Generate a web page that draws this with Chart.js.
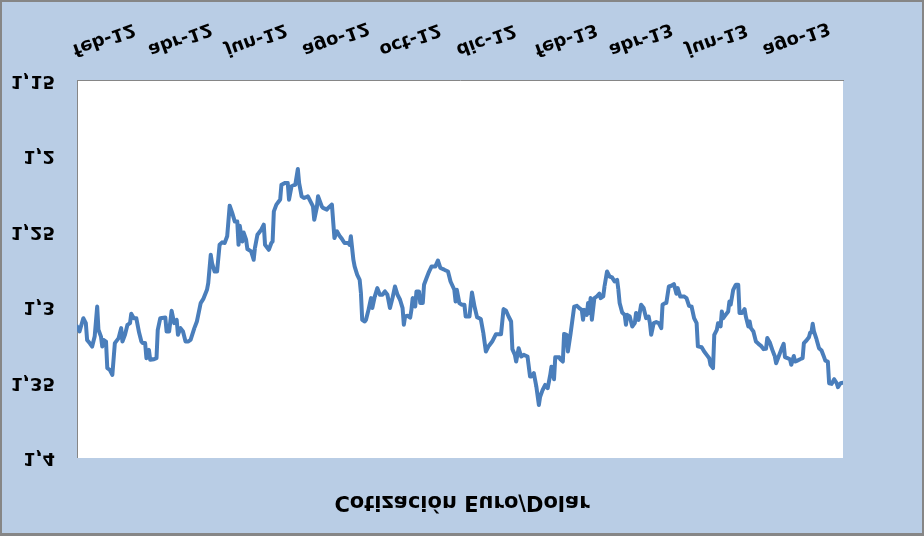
<!DOCTYPE html>
<html><head><meta charset="utf-8">
<script src="https://cdn.jsdelivr.net/npm/chart.js@4.4.1/dist/chart.umd.min.js"></script>
<style>
html,body{margin:0;padding:0;background:#fff;overflow:hidden}
#c{display:block;transform:scaleY(-1);}
</style></head><body>
<canvas id="c" width="924" height="536"></canvas>
<script>
// x values: days since 1 Feb 2012 ; y values: EUR/USD quote
const days=[
0,2,5,7,8,10,12,14,16,17,
19,20,21,23,24,26,28,30,33,35,
36,38,40,42,43,45,47,49,51,52,
54,55,57,58,61,63,64,66,70,71,
73,75,77,79,80,82,84,86,88,90,
93,95,98,100,103,104,106,107,109,111,
113,115,117,119,121,123,125,127,128,129,
131,132,134,135,138,140,141,143,146,148,
149,152,154,155,156,158,160,161,162,165,
167,168,170,173,175,176,178,180,183,185,
187,188,190,191,194,195,198,199,202,203,
204,206,208,210,212,215,216,217,219,220,
222,224,225,226,228,229,231,233,234,236,
238,240,242,244,246,248,250,252,254,256,
258,259,260,262,264,265,266,268,269,271,
272,274,275,277,279,281,284,286,288,291,
294,296,299,300,301,303,305,307,308,311,
313,315,317,320,322,324,326,329,332,336,
338,340,342,344,345,347,348,350,352,354,
357,359,360,362,364,366,367,369,371,373,
375,376,378,379,382,383,385,386,388,389,
391,394,396,398,400,401,402,404,405,406,
407,408,410,412,414,415,417,418,420,422,
424,426,428,429,430,432,434,435,436,438,
440,442,443,445,447,449,451,453,454,455,
457,459,461,463,464,466,467,469,471,473,
475,476,478,481,483,485,487,489,491,492,
495,497,499,501,502,504,505,507,508,510,
511,512,514,516,517,518,520,522,524,525,
527,529,530,532,533,534,536,538,540,542,
544,546,547,549,551,553,554,556,558,560,
561,563,565,566,568,569,571,573,575,576,
578,580,581,582,583,584,586,588,590,592,
593,595,596,598,600,602,603,605,607];
const values=[
1.3129,1.3162,1.3074,1.3107,1.3218,1.3239,1.3262,1.3196,1.2997,1.3151,
1.3196,1.3262,1.3218,1.3229,1.3405,1.3416,1.3450,1.3239,1.3206,1.3140,
1.3229,1.3184,1.3118,1.3107,1.3045,1.3074,1.3074,1.3162,1.3229,1.3239,
1.3239,1.3339,1.3284,1.3350,1.3346,1.3339,1.3151,1.3074,1.3070,1.3162,
1.3162,1.3025,1.3107,1.3085,1.3184,1.3140,1.3162,1.3229,1.3229,1.3218,
1.3140,1.3096,1.2974,1.2948,1.2886,1.2842,1.2654,1.2709,1.2765,1.2765,
1.2588,1.2572,1.2576,1.2532,1.2329,1.2377,1.2433,1.2433,1.2588,1.2462,
1.2566,1.2506,1.2554,1.2616,1.2632,1.2687,1.2609,1.2521,1.2488,1.2455,
1.2588,1.2621,1.2576,1.2566,1.2367,1.2322,1.2300,1.2289,1.2190,1.2178,
1.2178,1.2289,1.2201,1.2190,1.2086,1.2178,1.2267,1.2278,1.2267,1.2300,
1.2334,1.2422,1.2344,1.2267,1.2334,1.2344,1.2355,1.2344,1.2322,1.2433,
1.2543,1.2499,1.2528,1.2550,1.2576,1.2576,1.2588,1.2532,1.2687,1.2731,
1.2786,1.2820,1.2908,1.3085,1.3096,1.3085,1.3019,1.2941,1.3007,1.2930,
1.2875,1.2919,1.2919,1.2897,1.2919,1.3007,1.2941,1.2864,1.2919,1.2952,
1.3007,1.3118,1.3063,1.3058,1.3070,1.3019,1.2941,1.2997,1.2897,1.2897,
1.2974,1.2974,1.2853,1.2808,1.2765,1.2731,1.2731,1.2692,1.2742,1.2753,
1.2765,1.2831,1.2886,1.2964,1.2886,1.2974,1.2985,1.2985,1.3063,1.3063,
1.2904,1.2997,1.3067,1.3080,1.3173,1.3295,1.3262,1.3229,1.3180,1.3180,
1.3014,1.3025,1.3063,1.3096,1.3279,1.3317,1.3361,1.3273,1.3328,1.3317,
1.3328,1.3461,1.3461,1.3438,1.3527,1.3649,1.3594,1.3549,1.3516,1.3538,
1.3450,1.3395,1.3478,1.3332,1.3332,1.3346,1.3361,1.3178,1.3184,1.3295,
1.3184,1.2997,1.2992,1.3007,1.3019,1.3085,1.3019,1.3052,1.2974,1.3040,
1.2941,1.3085,1.2941,1.2930,1.2912,1.2941,1.2930,1.2864,1.2765,1.2798,
1.2804,1.2831,1.2820,1.2886,1.2974,1.3036,1.3052,1.3118,1.3052,1.3063,
1.3129,1.3107,1.3040,1.3085,1.2985,1.3007,1.3074,1.3063,1.3107,1.3184,
1.3107,1.3100,1.3107,1.3140,1.2985,1.2974,1.2974,1.2864,1.2859,1.2848,
1.2912,1.2875,1.2930,1.2930,1.2941,1.2992,1.2997,1.3074,1.3107,1.3261,
1.3266,1.3295,1.3317,1.3339,1.3383,1.3405,1.3184,1.3151,1.3107,1.3129,
1.3030,1.3074,1.3052,1.3030,1.2964,1.2985,1.2886,1.2853,1.2853,1.3040,
1.3040,1.3014,1.3063,1.3129,1.3096,1.3140,1.3162,1.3229,1.3244,1.3257,
1.3279,1.3277,1.3206,1.3235,1.3284,1.3328,1.3372,1.3328,1.3284,1.3244,
1.3332,1.3339,1.3346,1.3383,1.3324,1.3361,1.3355,1.3346,1.3339,1.3239,
1.3222,1.3200,1.3169,1.3169,1.3111,1.3162,1.3213,1.3273,1.3288,1.3332,
1.3355,1.3361,1.3505,1.3509,1.3478,1.3505,1.3531,1.3505,1.3501];
const xTickDays=[0,60,121,182,243,304,366,425,486,547];
const xTickLabels=['feb-12','abr-12','jun-12','ago-12','oct-12','dic-12','feb-13','abr-13','jun-13','ago-13'];
const yTickValues=[1.15,1.2,1.25,1.3,1.35,1.4];
const yTickLabels=['1,15','1,2','1,25','1,3','1,35','1,4'];
const chartTitle='Cotización Euro/Dolar';

const FONT='"DejaVu Sans", sans-serif';

const bgPlugin={id:'bg',beforeDraw(chart){
  const {ctx,chartArea:a}=chart;
  ctx.save();
  ctx.fillStyle='#868686';
  ctx.fillRect(0,0,chart.width,chart.height);
  ctx.fillStyle='#B9CDE5';
  ctx.fillRect(2,3,chart.width-4,chart.height-5);
  ctx.fillStyle='#ffffff';
  ctx.fillRect(a.left,a.top,a.right-a.left,a.bottom-a.top);
  ctx.restore();
}};
const xLabelPlugin={id:'xlabels',afterDraw(chart){
  const {ctx}=chart; const xs=chart.scales.x;
  const y0=chart.chartArea.bottom+22.5;
  ctx.save();
  ctx.font='bold 18px '+FONT;
  ctx.fillStyle='#000';
  ctx.textAlign='left';
  ctx.textBaseline='alphabetic';
  xTickDays.forEach((d,i)=>{
    const px=xs.getPixelForValue(d);
    ctx.save();
    ctx.translate(px-1,y0);
    ctx.rotate(20*Math.PI/180);
    ctx.fillText(xTickLabels[i],0,13);
    ctx.restore();
  });
  ctx.restore();
}};

new Chart(document.getElementById('c'),{
  type:'line',
  data:{datasets:[{
    data:days.map((d,i)=>({x:d,y:values[i]})),
    xAxisID:'x',yAxisID:'y',
    borderColor:'#4A7EBB',borderWidth:4,pointRadius:0,tension:0,
    borderJoinStyle:'round',borderCapStyle:'round',fill:false
  }]},
  options:{
    responsive:false,animation:false,devicePixelRatio:1,events:[],
    layout:{padding:0},
    plugins:{
      legend:{display:false},tooltip:{enabled:false},
      title:{display:true,text:chartTitle,color:'#000',
        font:{family:FONT,size:21,weight:'bold',lineHeight:1.2},
        padding:{top:22.4,bottom:30.4}}
    },
    scales:{
      x:{type:'linear',min:0,max:607,
        ticks:{display:false},
        grid:{display:false,drawTicks:false},
        border:{display:true,color:'#868686',width:1},
        afterFit(s){s.height=80.5;}},
      y:{type:'linear',min:1.15,max:1.4,
        afterBuildTicks(s){s.ticks=yTickValues.map(v=>({value:v}));},
        ticks:{callback:(v,i)=>yTickLabels[i],color:'#000',autoSkip:false,
          font:{family:FONT,size:18,weight:'bold'},padding:22},
        grid:{display:false,drawTicks:false},
        border:{display:true,color:'#868686',width:1},
        afterFit(s){s.width=77;}},
      y2:{position:'right',display:true,
        ticks:{display:false},
        grid:{display:false,drawTicks:false},
        border:{display:false},
        afterFit(s){s.width=81;}}
    }
  },
  plugins:[bgPlugin,xLabelPlugin]
});
</script>
</body></html>
